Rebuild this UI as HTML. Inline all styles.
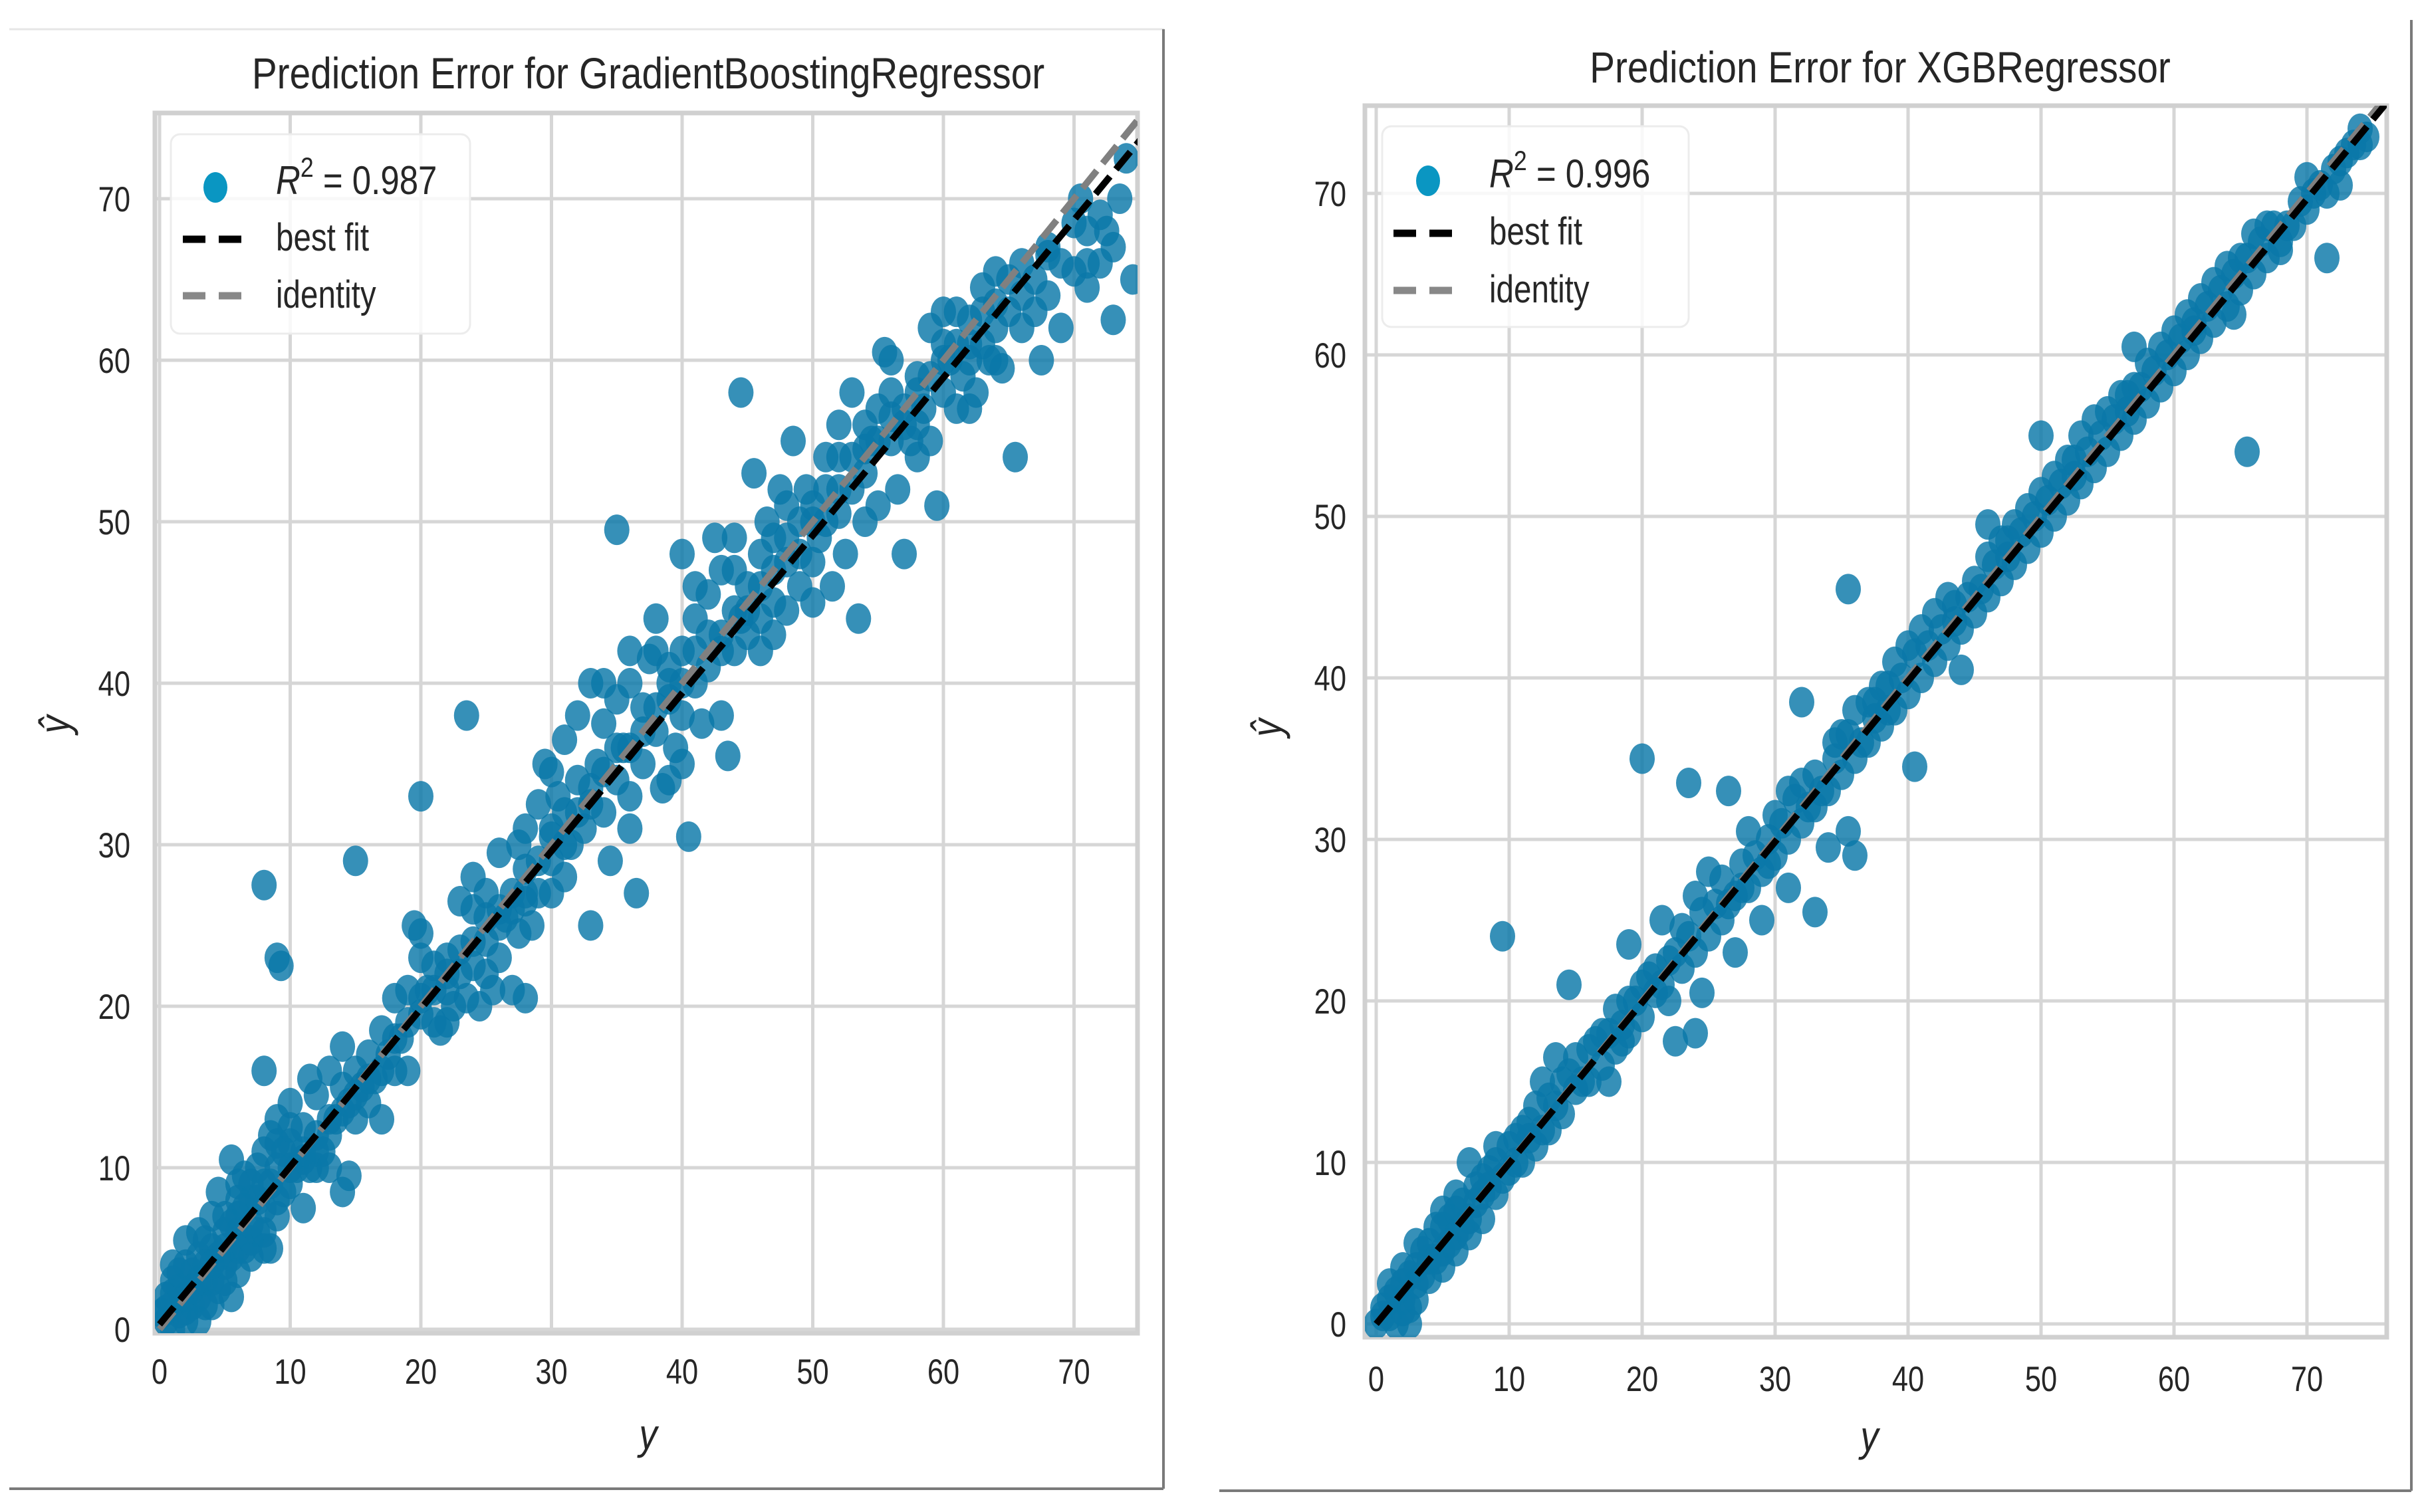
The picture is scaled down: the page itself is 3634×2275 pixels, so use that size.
<!DOCTYPE html>
<html><head><meta charset="utf-8">
<style>
html,body{margin:0;padding:0;background:#fff;}
svg{display:block;}
text{font-family:"Liberation Sans",Arial,sans-serif;fill:#262626;}
</style></head>
<body>
<svg id="chart" width="3634" height="2275" viewBox="0 0 3634 2275" xmlns="http://www.w3.org/2000/svg">
<rect x="0" y="0" width="3634" height="2275" fill="#fff"/>
<g id="frames">
<polyline points="14,44 1750,44 1750,2240" fill="none" stroke="#e6e6e6" stroke-width="3"/>
<line x1="1750" y1="44" x2="1750" y2="2240" stroke="#7a7a7a" stroke-width="4"/>
<line x1="14" y1="2240" x2="1750" y2="2240" stroke="#7a7a7a" stroke-width="4"/>
<line x1="1834" y1="2243" x2="3627" y2="2243" stroke="#7a7a7a" stroke-width="4"/>
<line x1="3627" y1="30" x2="3627" y2="2243" stroke="#7a7a7a" stroke-width="4"/>
</g>
<g id="left-panel"></g>
<g id="right-panel"></g>
</svg>
<script>
const xTicks = [0,10,20,30,40,50,60,70];
const yTicks = [0,10,20,30,40,50,60,70];
const tickLabels = ["0","10","20","30","40","50","60","70"];
const gbrTitle = "Prediction Error for GradientBoostingRegressor";
const xgbTitle = "Prediction Error for XGBRegressor";
const gbrR2 = "0.987";
const xgbR2 = "0.996";
const gbrFit = [0.3, 0.977];
const xgbFit = [0.0, 0.995];
const gbrPoints = [[0.5,0.5],[0.5,2],[1,0],[1,1.5],[1,3],[1.5,1],[1.5,2.5],[2,0.5],[2,2],[2,4],[2.5,1.5],[2.5,3.5],[3,2],[3,4.5],[3,6],[3.5,1.5],[3.5,3],[3.5,5.5],[4,3],[4,5],[4,7],[4.5,2.5],[4.5,4.5],[4.5,8.5],[5,3],[5,5],[5,7],[5.5,2],[5.5,4.5],[5.5,10.5],[6,3.5],[6,6],[6,8],[6.5,5],[6.5,7.5],[6.5,9.5],[7,4.5],[7,6.5],[7,9],[7.5,6],[7.5,8],[7.5,10],[8,5],[8,7.5],[8,11],[8.5,5],[8.5,9],[8.5,12],[9,7],[9,10],[9,13],[9.5,8.5],[9.5,11],[10,9],[10,11.5],[10,14],[10.5,10],[11,7.5],[11,10.5],[11,12.5],[11.5,15.5],[12,10],[12,12],[12,14.5],[12.5,11],[13,12],[13,16],[13.5,13],[14,8.5],[14,13.5],[14,17.5],[14.5,9.5],[14.5,14],[15,13],[15,16],[15.5,15],[16,14],[16,17],[16.5,15.5],[17,13],[17,18.5],[17.5,17],[18,16],[18,20.5],[18.5,18],[19,16],[19,21],[19.5,25],[20,19.5],[20,24.5],[20.5,21],[21,19],[21,22.5],[21.5,18.5],[22,21],[22,23],[22.5,20],[23,22],[23,26.5],[23.5,20.5],[24,22.5],[24,26],[24.5,20],[25,24],[25,27],[25.5,21],[26,25],[26,29.5],[26.5,25.5],[27,21],[27,27],[27.5,30],[28,26.5],[28,28.5],[28.5,25],[29,27],[29,32.5],[29.5,35],[30,29],[30,31],[30,34.5],[30.5,33],[31,28],[31,32],[31,36.5],[31.5,30],[32,34],[32,38],[32.5,31],[33,33.5],[33,40],[33.5,35],[34,32],[34,37.5],[34.5,29],[35,34],[35,39],[35,49.5],[35.5,36],[36,33],[36,40],[36.5,27],[37,35],[37,38.5],[37.5,41.5],[38,37],[38,44],[38.5,33.5],[39,39],[39,41],[39.5,36],[40,38],[40,42],[40,48],[40.5,30.5],[41,40],[41,44],[41.5,37.5],[42,41],[42,45.5],[42.5,49],[43,38],[43,43],[43.5,35.5],[44,42],[44,47],[44.5,44],[44.5,58],[45,43],[45,46],[45.5,53],[46,44],[46,48],[46.5,50],[47,45],[47,49],[47.5,52],[48,44.5],[48,47.5],[48.5,55],[49,46],[49,50],[49.5,52],[50,47.5],[50,51],[50.5,49],[51,50],[51,54],[51.5,46],[52,50.5],[52,56],[52.5,48],[53,52],[53,58],[53.5,44],[54,53],[54,56],[54.5,55],[55,51],[55,57],[55.5,60.5],[56,55],[56,58],[56.5,52],[57,48],[57,57],[57.5,55],[58,56],[58,59],[58.5,57],[59,55],[59,62],[59.5,51],[60,58],[60,61],[60.5,60],[61,57],[61,63],[61.5,59],[62,60],[62,62.5],[62.5,58],[63,61],[63,64.5],[63.5,60],[64,62],[64,65.5],[64.5,59.5],[65,63],[65.5,54],[66,62],[66,66],[67,63],[67.5,60],[68,64],[68,66.5],[69,62],[70,65.5],[70.5,70],[71,68],[71,64.5],[72,66],[72.5,68],[73,62.5],[73.5,70],[74,72.5],[74.5,65],[0.2,1],[1,4],[2,5.5],[3,0.5],[5.5,6.5],[6,9],[8,16],[8,27.5],[9,23],[9.3,22.5],[11.5,10],[15,29],[20,33],[23.5,38],[25,22],[28,20.5],[33,25],[27.5,24.5],
[0.5,1.2],[1,2.2],[1.5,3.5],[2,1.2],[2.5,2.5],[3,3],[3.5,4],[4,1.5],[4,4],[5,4],[5,6],[6,5],[6,7],[7,5.5],[7,8],[8,6],[8,9],[9,8],[9,11.5],[10,10],[10,12.5],[11,11],[12,11],[13,13],[13,10],[14,15],[15,14.5],[16,15.5],[17,16],[18,18],[19,19],[20,20.5],[21,21],[22,22],[23,23.5],[24,24],[25,25.5],[26,26],[27,26],[28,27],[29,29],[30,30.5],[31,30],[32,32],[33,32.5],[34,34.5],[35,36],[36,36],[37,37],[38,38.5],[39,40],[40,40],[41,42],[42,43],[43,42],[44,44.5],[45,44.5],[46,46],[47,47],[48,49],[49,48],[50,50],[51,52],[52,52],[53,54],[54,54.5],[55,55],[56,56.5],[57,56],[58,58],[59,59],[60,60],[61,61],[62,61],[63,63],[64,63.5],[65,65],[66,64],[67,65],[68,67],[69,66],[70,68.5],[71,66],[72,69],[73,67],[41,46],[43,47],[46,42],[48,51],[50,45],[52,54],[54,50],[56,60],[58,54],[60,63],[62,57],[64,60],[34,40],[36,31],[38,42],[40,35],[30,27],[28,31],[26,23],[24,28],[22,19],[20,23],[36,42],[44,49],[39,34],[47,43]];
const xgbPoints = [[0,0],[0.5,1],[1,0.5],[1,1.5],[2,1.5],[2,2.5],[2.5,0],[3,3.5],[3,2.5],[4,4],[4,5],[4.5,6],[5,4.5],[5,6],[6,5.5],[6,7],[7,6.5],[7,10],[7.5,7.5],[8,8],[8,9],[9,8],[9,10],[10,9.5],[10,11],[11,10],[11,12],[12,11],[12,13.5],[12.5,15],[13,12],[13,14],[13.5,16.5],[14,13],[14,15],[15,14.5],[15,16.5],[16,15],[16,17],[17,16],[17,18],[17.5,15],[18,17],[18,19.5],[19,18],[19,20],[19,23.5],[20,19],[20,21],[21,20.5],[21,22],[21.5,25],[22,20],[22,22.5],[22.5,17.5],[23,22],[23,24.5],[24,23],[24,26.5],[24.5,20.5],[25,24],[25,28],[26,25],[26,27.5],[27,26.5],[27,23],[28,27],[28,30.5],[29,28],[29,25],[29.5,30],[30,29],[30,31.5],[31,30],[31,33],[32,31],[32,33.5],[33,32],[33,34],[34,33],[34,29.5],[34.5,36],[35,34],[35,36.5],[35.5,30.5],[36,35],[36,38],[37,36],[37,38.5],[38,37],[38,39.5],[39,38],[39,41],[40,39],[40,42],[41,40],[41,43],[42,41],[42,44],[43,42],[43,45],[44,43],[44,40.5],[45,44],[45,46],[46,45],[46,47.5],[47,46],[47,48.5],[48,47],[48,49.5],[49,48],[49,50.5],[50,49],[50,51.5],[51,50],[51,52.5],[52,51],[52,53.5],[53,52],[53,55],[54,53],[54,56],[55,54],[55,56.5],[56,55],[56,57.5],[57,56],[57,58],[58,57],[58,59.5],[59,58],[59,60.5],[60,59],[60,61.5],[61,60],[61,62.5],[62,61],[62,63.5],[63,62],[63,64.5],[64,63],[64,65.5],[64.5,62.5],[65,64],[65,66],[66,65],[66,67.5],[67,66],[67,68],[68,67],[68,66.5],[69,68],[70,69],[70,71],[71,70.5],[71.5,70],[72,71.5],[72.5,70.5],[73,72.5],[74,74],[74,73],[74.5,73.5],[9.5,24],[14.5,21],[20,35],[23.5,33.5],[26.5,33],[24,18],[32,38.5],[35.5,45.5],[36,29],[33,25.5],[31,27],[40.5,34.5],[38.5,38],[65.5,54],[71.5,66],[57,60.5],[46,49.5],[50,55],[1.5,0],[2.5,1],[3.5,3],[5.5,5],[6.5,6],[8.5,8.5],[10.5,10],[11.5,11.5],[18.5,18.5],[27.5,27],[37.5,37.5],[43.5,43.5],[47.5,47.5],[52.5,52.5],[56.5,56.5],[61.5,61.5],
[0.5,0.5],[1.5,2],[2.5,3],[3.5,4.5],[4.5,4],[5.5,6.5],[6.5,7.5],[7.5,8.5],[8.5,9.5],[9.5,9],[10.5,11.5],[11.5,12.5],[12.5,12],[13.5,13.5],[14.5,15.5],[15.5,15],[16.5,17.5],[17.5,18],[18.5,17.5],[19.5,20],[20.5,21.5],[21.5,21],[22.5,23],[23.5,24],[24.5,25.5],[25.5,26],[26.5,26],[27.5,28.5],[28.5,29],[29.5,28.5],[30.5,31],[31.5,32.5],[32.5,32],[33.5,33],[34.5,35],[35.5,36.5],[36.5,36],[37.5,38.5],[38.5,39.5],[39.5,40],[40.5,41.5],[41.5,42],[42.5,43],[43.5,44.5],[44.5,45],[45.5,45.5],[46.5,47],[47.5,48.5],[48.5,49],[49.5,50],[50.5,51],[51.5,52],[52.5,53.5],[53.5,54],[54.5,55],[55.5,56],[56.5,57.5],[57.5,58],[58.5,59],[59.5,60],[60.5,61],[61.5,62],[62.5,63],[63.5,64],[64.5,65],[65.5,66],[66.5,67],[67.5,68],[68.5,68],[69.5,69.5],[70.5,70],[72.5,72],[73.5,73],[1,2.5],[2,0.8],[3,1.5],[4,2.8],[5,3.5],[6,4.5],[7,5.5],[8,6.5],[2,3.5],[3,5],[5,7],[6,8],[9,11]];

const NS = "http://www.w3.org/2000/svg";
function mk(tag, attrs, parent){const e=document.createElementNS(NS,tag);for(const k in attrs)e.setAttribute(k,attrs[k]);parent.appendChild(e);return e;}
function txt(parent, s, x, y, size, anchor, sx, extra){
  const t=mk('text',{x:0,y:0,'font-size':size,'text-anchor':anchor||'start',transform:`translate(${x},${y}) scale(${sx||0.82},1)`},parent);
  if(extra) for(const k in extra) t.setAttribute(k,extra[k]);
  t.textContent=s; return t;
}

function panel(g, cfg, points, fit, r2, title){
  const X = v => cfg.x0 + v*cfg.xu;
  const Y = v => cfg.y0 - v*cfg.yu;
  const grid = mk('g',{},g);
  
  
  xTicks.forEach(t=>{mk('line',{x1:X(t),y1:cfg.top,x2:X(t),y2:cfg.bottom,stroke:'#d6d6d6','stroke-width':5},grid);});
  yTicks.forEach(t=>{mk('line',{x1:cfg.left,y1:Y(t),x2:cfg.right,y2:Y(t),stroke:'#d6d6d6','stroke-width':5},grid);});
  const sp = mk('rect',{x:cfg.left,y:cfg.top,width:cfg.right-cfg.left,height:cfg.bottom-cfg.top,fill:'none',stroke:'#d0d0d0','stroke-width':7},g);
  
  
  const clipId = 'clip'+cfg.id;
  const cp = mk('clipPath',{id:clipId},g);
  mk('rect',{x:cfg.left,y:cfg.top,width:cfg.right-cfg.left,height:cfg.bottom-cfg.top},cp);
  const pts = mk('g',{'clip-path':`url(#${clipId})`},g);
  
  
  points.forEach(p=>{
    const c = mk('ellipse',{cx:X(p[0]),cy:Y(p[1]),rx:19,ry:23,fill:'#0a78a8','fill-opacity':0.82},pts);
    
    
  });
  const lines = mk('g',{'clip-path':`url(#${clipId})`},g);
  const xmax = (cfg.right-cfg.x0)/cfg.xu;
  const idl = mk('line',{x1:X(0),y1:Y(0),x2:X(xmax+2),y2:Y(xmax+2),stroke:'#808080','stroke-width':10,'stroke-dasharray':'34,14'},lines);
  
  
  const bf = mk('line',{x1:X(0),y1:Y(fit[0]),x2:X(xmax+2),y2:Y(fit[0]+fit[1]*(xmax+2)),stroke:'#000','stroke-width':10,'stroke-dasharray':'34,14'},lines);
  
  
  const tg = mk('g',{},g);
  
  
  xTicks.forEach((t,i)=>{const e=txt(tg,tickLabels[i],X(t),cfg.xlabY,53,'middle');});
  yTicks.forEach((t,i)=>{const e=txt(tg,tickLabels[i],cfg.ylabX,Y(t)+19,53,'end');});
  const tt = txt(g,title,cfg.titleX,cfg.titleY,66,'middle',0.86);
  
  
  const xl = txt(g,'y',cfg.xaxX,cfg.xaxY,64,'middle',0.85,{'font-style':'italic'});
  
  
  const yl = mk('text',{x:0,y:0,'font-size':64,'font-style':'italic','text-anchor':'middle',transform:`translate(${cfg.yaxX},${cfg.yaxY}) rotate(-90) scale(0.85,1)`},g);
  yl.textContent='ŷ';
  
  
  const L = cfg.leg;
  const lg = mk('g',{},g);
  
  
  mk('rect',{x:L.x,y:L.y,width:L.w,height:L.h,rx:14,fill:'#fff','fill-opacity':0.82,stroke:'#ececec','stroke-width':3},lg);
  mk('ellipse',{cx:L.dotX,cy:L.r1-10,rx:18,ry:23,fill:'#0a96c2'},lg);
  const r = mk('text',{x:0,y:0,'font-size':60,transform:`translate(${L.tx},${L.r1}) scale(0.85,1)`},lg);
  r.innerHTML = `<tspan font-style="italic">R</tspan><tspan font-size="42" dy="-26">2</tspan><tspan dy="26"> = ${r2}</tspan>`;
  
  
  mk('line',{x1:L.lx,y1:L.r2-17,x2:L.lx+92,y2:L.r2-17,stroke:'#000','stroke-width':11,'stroke-dasharray':'34,20'},lg);
  const b = txt(lg,'best fit',L.tx,L.r2,58,'start',0.82);
  
  
  mk('line',{x1:L.lx,y1:L.r3-18,x2:L.lx+92,y2:L.r3-18,stroke:'#888','stroke-width':11,'stroke-dasharray':'34,20'},lg);
  const d = txt(lg,'identity',L.tx,L.r3,58,'start',0.82);
  
  
}

panel(document.getElementById('left-panel'),
  {id:'L',left:233,right:1711,top:170,bottom:2006,x0:240,xu:19.65,y0:2000,yu:24.3,
   xlabY:2082,ylabX:196,titleX:975,titleY:133,xaxX:975,xaxY:2180,yaxX:104,yaxY:1090,
   leg:{x:257,y:202,w:450,h:300,dotX:324,tx:415,lx:275,r1:292,r2:377,r3:463}},
  gbrPoints, gbrFit, gbrR2, gbrTitle);
panel(document.getElementById('right-panel'),
  {id:'R',left:2053,right:3590,top:159,bottom:2012,x0:2070,xu:20.0,y0:1992,yu:24.3,
   xlabY:2093,ylabX:2025,titleX:2828,titleY:124,xaxX:2812,xaxY:2183,yaxX:1927,yaxY:1095,
   leg:{x:2079,y:190,w:461,h:302,dotX:2148,tx:2240,lx:2096,r1:282,r2:368,r3:455}},
  xgbPoints, xgbFit, xgbR2, xgbTitle);
</script>
</body></html>
